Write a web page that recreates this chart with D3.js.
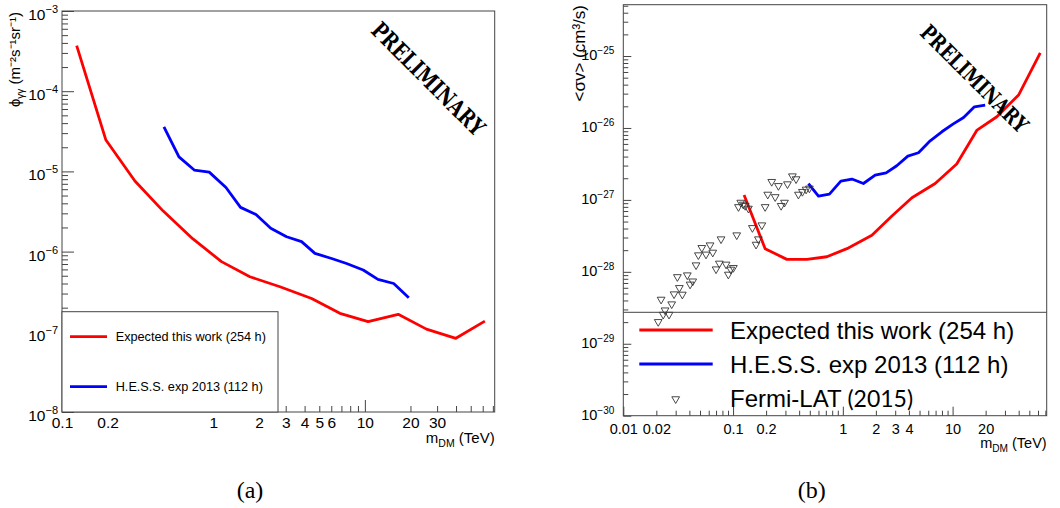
<!DOCTYPE html>
<html>
<head>
<meta charset="utf-8">
<script src="https://cdn.jsdelivr.net/npm/d3@7"></script>
<style>
body { margin: 0; background: #fff; }
svg { display: block; font-family: "Liberation Sans", Arial, sans-serif; }
text { fill: #000; }
</style>
</head>
<body>
<svg id="chart" width="1060" height="508"></svg>
<script>
// ---- panel (a): flux limits ----
var expMassA = [0.125, 0.195, 0.303, 0.466, 0.729, 1.13, 1.74, 2.75, 4.45, 6.84, 10.5, 16.6, 25.5, 39.9, 62];
var expFluxA = [3.7e-4, 2.46e-5, 7.6e-6, 3.2e-6, 1.45e-6, 7.5e-7, 4.86e-7, 3.65e-7, 2.6e-7, 1.7e-7, 1.34e-7, 1.65e-7, 1.08e-7, 8.3e-8, 1.36e-7];
var hessMassA = [0.471, 0.592, 0.747, 0.938, 1.21, 1.51, 1.91, 2.39, 3.04, 3.82, 4.68, 6.03, 7.57, 9.75, 12.2, 15.5, 19.5];
var hessFluxA = [3.6e-5, 1.52e-5, 1.04e-5, 9.8e-6, 6.3e-6, 3.56e-6, 2.9e-6, 1.95e-6, 1.53e-6, 1.33e-6, 9.5e-7, 8.2e-7, 7.1e-7, 5.9e-7, 4.5e-7, 4.0e-7, 2.66e-7];

// ---- panel (b): <sigma v> limits ----
var expMassB = [0.126, 0.196, 0.309, 0.47, 0.715, 1.09, 1.84, 2.8, 4.26, 6.94, 10.9, 16.7, 25.3, 39.9, 62.9];
var expSvB = [1.17e-27, 2.1e-28, 1.49e-28, 1.49e-28, 1.62e-28, 2.1e-28, 3.23e-28, 5.96e-28, 1.07e-27, 1.69e-27, 3.15e-27, 9.35e-27, 1.43e-26, 2.87e-26, 1.11e-25];
var hessMassB = [0.486, 0.6, 0.755, 0.959, 1.21, 1.54, 1.97, 2.48, 3.1, 3.91, 4.89, 6.25, 7.98, 10.07, 12.6, 15.8, 19.8];
var hessSvB = [1.69e-27, 1.13e-27, 1.2e-27, 1.82e-27, 1.95e-27, 1.69e-27, 2.21e-27, 2.38e-27, 2.98e-27, 4.06e-27, 4.52e-27, 6.63e-27, 8.85e-27, 1.13e-26, 1.4e-26, 1.97e-26, 2.08e-26];
var fermiMass = [0.347, 0.375, 0.225, 0.259, 0.313, 0.207, 0.242, 0.294, 0.274, 0.394, 0.428, 0.463, 0.496,
	0.1175, 0.124, 0.112, 0.129, 0.138, 0.196, 0.150, 0.183, 0.108, 0.170, 0.162,
	0.0777, 0.0617, 0.0519, 0.0567, 0.0483, 0.0653, 0.0460, 0.0750, 0.0864, 0.0700, 0.1006, 0.0953, 0.0906,
	0.0311, 0.0383, 0.0429, 0.0406, 0.0324, 0.0290, 0.0345, 0.0221, 0.0276, 0.0240, 0.0231, 0.0261, 0.0208];
var fermiSv = [2.14e-27, 1.95e-27, 1.79e-27, 1.57e-27, 1.66e-27, 1.19e-27, 1.10e-27, 9.2e-28, 8.3e-28, 1.19e-27, 1.30e-27, 1.40e-27, 1.45e-27,
	9.2e-28, 8.65e-28, 8.0e-28, 8.3e-28, 7.6e-28, 8.0e-28, 4.09e-28, 4.46e-28, 3.24e-28, 2.85e-28, 2.40e-28,
	2.85e-28, 2.35e-28, 2.16e-28, 1.75e-28, 1.71e-28, 1.86e-28, 1.24e-28, 1.31e-28, 1.27e-28, 1.09e-28, 1.14e-28, 1.08e-28, 9.2e-29,
	8.5e-29, 9.0e-29, 7.4e-29, 6.7e-29, 6.0e-29, 4.9e-29, 4.85e-29, 4.13e-29, 3.56e-29, 2.93e-29, 2.55e-29, 2.55e-29, 2.02e-29];

// tick labels
var xLabelsA = [0.1, 0.2, 1, 2, 3, 4, 5, 6, 10, 20, 30];
var xLabelsB = [0.01, 0.02, 0.1, 0.2, 1, 2, 3, 4, 10, 20];
var yDecadesA = [1e-8, 1e-7, 1e-6, 1e-5, 1e-4, 1e-3];
var yDecadesB = [1e-30, 1e-29, 1e-28, 1e-27, 1e-26, 1e-25];

var legendA = [{"label": "Expected this work (254 h)", "color": "#ff0000"},
	{"label": "H.E.S.S. exp 2013 (112 h)", "color": "#0000ff"}];
var legendB = [{"label": "Expected this work (254 h)", "color": "#ff0000"},
	{"label": "H.E.S.S. exp 2013 (112 h)", "color": "#0000ff"},
	{"label": "Fermi-LAT", "year": "(2015)", "marker": true}];

var svg = d3.select("#chart");
var frameColor = "#444";
var sansFont = "'Liberation Sans', Arial, sans-serif";

function zip( xs, ys )
{
	return xs.map(function(d, i) { return {"m": d, "v": ys[i]}; });
}

function logTicks( lo, hi, decadesOnly )
{
	var t = [];
	for(var e = Math.floor(Math.log10(lo)); e <= Math.ceil(Math.log10(hi)); e++)
		for(var k = 1; k < 10; k++)
		{
			var v = k * Math.pow(10, e);
			if(v < lo * 0.999 || v > hi * 1.001) continue;
			if((k == 1) == decadesOnly) t.push(v);
		}
	return t;
}

function fmtNum( d )
{
	return d < 1 ? String(+d.toPrecision(2)) : String(Math.round(d));
}

function drawPanel( p )
{
	var g = svg.append("g");
	var x = p.x, y = p.y;
	var r = x.range(), b = y.range();

	// x ticks (inward)
	var xd = x.domain(), yd = y.domain();
	var gx = g.append("g").attr("transform", "translate(0," + b[0] + ")");
	gx.append("g").call(d3.axisBottom(x).tickValues(logTicks(xd[0], xd[1], false)).tickSize(-p.minorX).tickFormat(""));
	gx.append("g").call(d3.axisBottom(x).tickValues(logTicks(xd[0], xd[1], true)).tickSize(-p.majorX).tickFormat(""));
	var lx = gx.append("g").call(d3.axisBottom(x).tickValues(p.xLabels).tickSize(0).tickPadding(p.xPad).tickFormat(fmtNum));
	gx.selectAll("g").attr("font-family", sansFont);
	lx.selectAll("text").attr("font-size", p.tickFont);
	gx.selectAll(".domain").remove();
	gx.selectAll("line").attr("stroke", frameColor);

	// y ticks (inward)
	var gy = g.append("g").attr("transform", "translate(" + r[0] + ",0)");
	gy.append("g").call(d3.axisLeft(y).tickValues(logTicks(yd[0], yd[1], false)).tickSize(-p.minorY).tickFormat(""));
	gy.append("g").call(d3.axisLeft(y).tickValues(logTicks(yd[0], yd[1], true)).tickSize(-p.majorY).tickFormat(""));
	var ly = gy.append("g").call(d3.axisLeft(y).tickValues(p.yDecades).tickSize(0).tickPadding(p.yPad).tickFormat(""));
	gy.selectAll("g").attr("font-family", sansFont);
	ly.selectAll("text").attr("dy", p.yDy).each(function(d) {
		var t = d3.select(this);
		t.append("tspan").attr("font-size", p.tickFont).text("10");
		t.append("tspan").attr("font-size", p.expFont).attr("dy", -p.expRise).text("\u2212" + Math.round(-Math.log10(d)));
	});
	gy.selectAll(".domain").remove();
	gy.selectAll("line").attr("stroke", frameColor);

	// frame
	g.append("rect")
		.attr("x", r[0]).attr("y", b[1])
		.attr("width", r[1] - r[0]).attr("height", b[0] - b[1])
		.attr("fill", "none").attr("stroke", frameColor).attr("stroke-width", 1);

	// curves
	var line = d3.line()
		.x(function(d) { return x(d.m); })
		.y(function(d) { return y(d.v); });
	for(var i in p.curves)
		g.append("path")
			.datum(p.curves[i].data)
			.attr("d", line)
			.attr("fill", "none")
			.attr("stroke", p.curves[i].color)
			.attr("stroke-width", 2.8)
			.attr("stroke-linejoin", "round");

	// markers
	if(p.points)
		g.selectAll("path.pt")
			.data(p.points)
			.enter().append("path")
			.attr("class", "pt")
			.attr("d", d3.symbol().type(d3.symbolTriangle).size(26))
			.attr("transform", function(d) { return "translate(" + x(d.m) + "," + y(d.v) + ") rotate(180)"; })
			.attr("fill", "none")
			.attr("stroke", "#333")
			.attr("stroke-width", 0.9);

	// axis titles
	var xt = g.append("text")
		.attr("x", r[1]).attr("y", p.xTitleY)
		.attr("text-anchor", "end")
		.attr("font-size", p.titleFont);
	xt.append("tspan").text("m");
	xt.append("tspan").attr("font-size", p.titleFont * 0.7).attr("dy", 4).text("DM");
	xt.append("tspan").attr("dy", -4).text(" (TeV)");

	var yt = g.append("text")
		.attr("transform", "translate(" + p.yTitleX + "," + p.yTitleTop + ") rotate(-90)")
		.attr("text-anchor", "end")
		.attr("font-size", p.yTitleFont);
	p.yTitle(yt);

	// PRELIMINARY stamp
	g.append("text")
		.attr("transform", "translate(" + p.stamp[0] + "," + p.stamp[1] + ") rotate(45) scale(0.9,1.15)")
		.attr("text-anchor", "middle")
		.attr("dominant-baseline", "central")
		.attr("font-family", "'DejaVu Serif', serif")
		.attr("font-weight", "bold")
		.attr("font-size", p.stampFont)
		.text("PRELIMINARY");

	// caption
	g.append("text")
		.attr("x", p.caption[0]).attr("y", p.caption[1])
		.attr("text-anchor", "middle")
		.attr("font-family", "'Liberation Serif', serif")
		.attr("font-size", 24)
		.text(p.captionText);

	return g;
}

// ---- panel (a) ----
var xA = d3.scaleLog().domain([0.1, 72]).range([62, 494.7]);
var yA = d3.scaleLog().domain([1e-8, 1e-3]).range([412, 11]);

var gA = drawPanel({
	"x": xA, "y": yA,
	"minorX": 6, "majorX": 12, "minorY": 6, "majorY": 12,
	"xLabels": xLabelsA, "xPad": 5, "tickFont": 15.5, "expFont": 11, "expRise": 7,
	"yDecades": yDecadesA, "yPad": 4, "yDy": "0.85em",
	"curves": [{"data": zip(expMassA, expFluxA), "color": "#ff0000"},
		{"data": zip(hessMassA, hessFluxA), "color": "#0000ff"}],
	"xTitleY": 443, "titleFont": 15,
	"yTitleX": 20, "yTitleTop": 12, "yTitleFont": 15,
	"yTitle": function(t) {
		t.append("tspan").text("\u03d5");
		t.append("tspan").attr("font-size", 10).attr("dy", 4).text("\u03b3\u03b3");
		t.append("tspan").attr("dy", -4).text(" (m\u207b\u00b2s\u207b\u00b9sr\u207b\u00b9)");
	},
	"stamp": [428, 79], "stampFont": 20,
	"caption": [250, 498], "captionText": "(a)"
});

// legend (a)
gA.append("rect")
	.attr("x", 62).attr("y", 311.7).attr("width", 216).attr("height", 100.3)
	.attr("fill", "#fff").attr("stroke", frameColor);
legendA.forEach(function(d, i) {
	var ly = 336.7 + i * 50;
	gA.append("line").attr("x1", 70).attr("x2", 107).attr("y1", ly).attr("y2", ly)
		.attr("stroke", d.color).attr("stroke-width", 2.8);
	gA.append("text").attr("x", 115.7).attr("y", ly + 4.5).attr("font-size", 12.7).text(d.label);
});

// ---- panel (b) ----
var xB = d3.scaleLog().domain([0.01, 72]).range([623.3, 1046.7]);
var yB = d3.scaleLog().domain([1e-30, 5.17e-25]).range([415.7, 4.7]);

var gB = drawPanel({
	"x": xB, "y": yB,
	"minorX": 5, "majorX": 9, "minorY": 5, "majorY": 8,
	"xLabels": xLabelsB, "xPad": 8, "tickFont": 14.5, "expFont": 10, "expRise": 6,
	"yDecades": yDecadesB, "yPad": 9, "yDy": "0.38em",
	"curves": [{"data": zip(expMassB, expSvB), "color": "#ff0000"},
		{"data": zip(hessMassB, hessSvB), "color": "#0000ff"}],
	"points": zip(fermiMass, fermiSv),
	"xTitleY": 448, "titleFont": 14.5,
	"yTitleX": 585, "yTitleTop": 5, "yTitleFont": 17,
	"yTitle": function(t) {
		t.text("<\u03c3v> (cm\u00b3/s)");
	},
	"stamp": [974, 79], "stampFont": 19,
	"caption": [811.7, 498], "captionText": "(b)"
});

// legend (b)
gB.append("line").attr("x1", 623.3).attr("x2", 1046.7).attr("y1", 312.3).attr("y2", 312.3)
	.attr("stroke", frameColor);
legendB.forEach(function(d, i) {
	var ly = 330 + i * 34;
	if(d.marker)
		gB.append("path")
			.attr("d", d3.symbol().type(d3.symbolTriangle).size(26))
			.attr("transform", "translate(675.7," + (ly + 1) + ") rotate(180)")
			.attr("fill", "none").attr("stroke", "#333").attr("stroke-width", 0.9);
	else
		gB.append("line").attr("x1", 639.3).attr("x2", 712.7).attr("y1", ly).attr("y2", ly)
			.attr("stroke", d.color).attr("stroke-width", 2.8);
	var t = gB.append("text").attr("x", 730).attr("y", ly + 8.5).attr("font-size", 24);
	t.append("tspan").text(d.label);
	if(d.year)
		t.append("tspan").attr("font-family", "Lato, sans-serif").attr("font-size", 23).text(" " + d.year);
});
</script>
</body>
</html>
